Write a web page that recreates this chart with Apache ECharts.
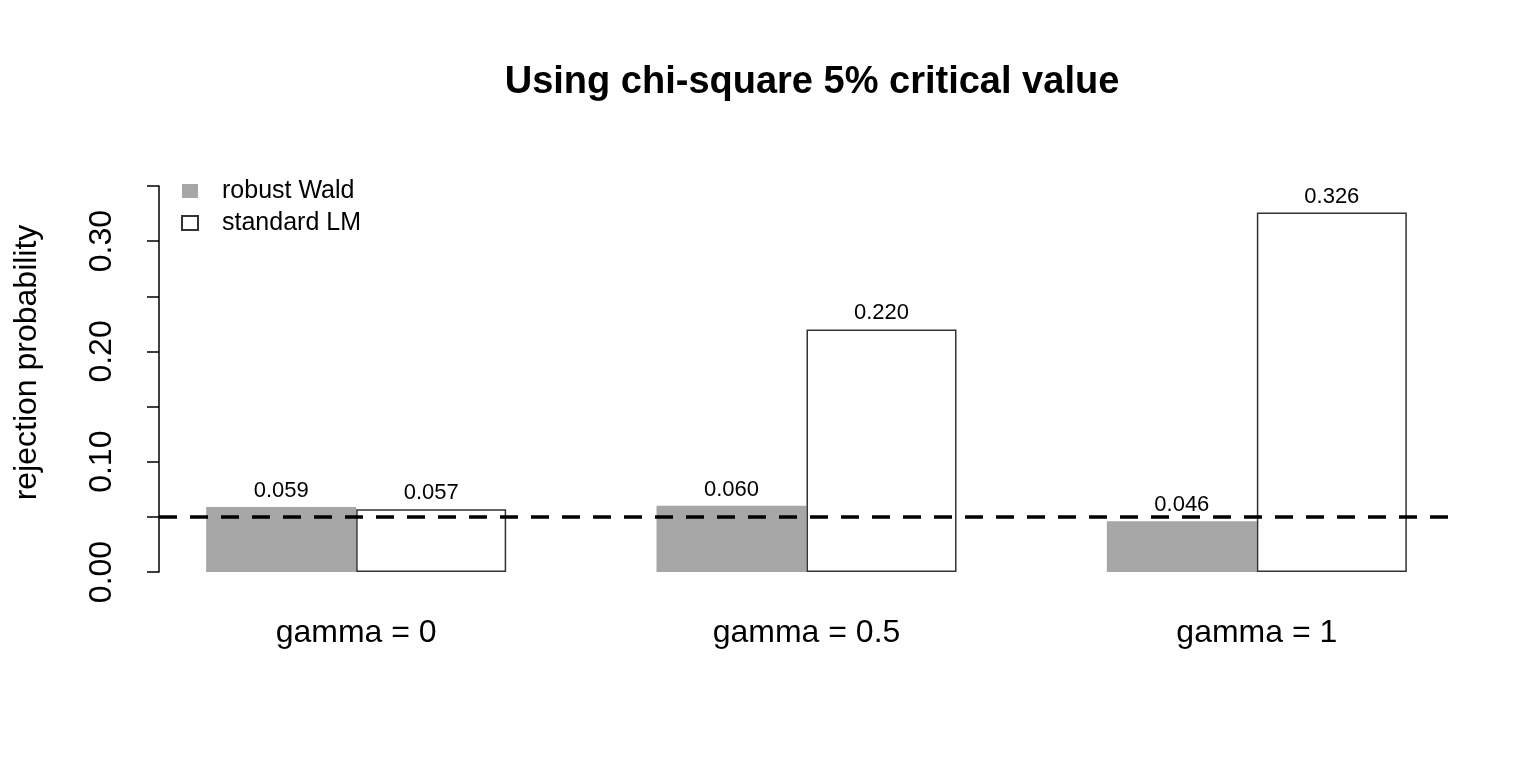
<!DOCTYPE html>
<html>
<head>
<meta charset="utf-8">
<script src="https://cdn.jsdelivr.net/npm/echarts@6/dist/echarts.min.js"></script>
<style>html,body{margin:0;padding:0;background:#fff;}#c{width:1536px;height:768px;}</style>
</head>
<body>
<div id="c"></div>
<script>
const categories = ['gamma = 0', 'gamma = 0.5', 'gamma = 1'];
const robustWald = [0.059, 0.060, 0.046];
const standardLM = [0.057, 0.220, 0.326];
const seriesNames = ['robust Wald', 'standard LM'];
const refLine = [0.05];
const titleText = 'Using chi-square 5% critical value';
const yTitle = 'rejection probability';

const FONT = '"Liberation Sans", Arial, Helvetica, sans-serif';
const chart = echarts.init(document.getElementById('c'));
const barLabel = {
  show: true, position: 'top', distance: 5,
  fontFamily: FONT, fontSize: 22, color: '#000',
  formatter: p => p.value.toFixed(3)
};
chart.setOption({
  animation: false,
  backgroundColor: '#fff',
  title: {
    text: titleText, left: 807, top: 59, textAlign: 'center',
    textStyle: { fontFamily: FONT, fontSize: 38, fontWeight: 'bold', color: '#000' }
  },
  legend: {
    orient: 'vertical', left: 181, top: 178, padding: 0,
    itemWidth: 16, itemHeight: 14, itemGap: 6,
    icon: 'rect',
    data: seriesNames,
    textStyle: { fontFamily: FONT, fontSize: 25, color: '#000', lineHeight: 26, padding: [0, 0, 0, 19] }
  },
  grid: [
    { left: 131, width: 1351, top: 153, bottom: 196 },
    { left: 159, width: 1296, top: 186, bottom: 196 }
  ],
  xAxis: [
    {
      type: 'category', gridIndex: 0, data: categories,
      axisLine: { show: false }, axisTick: { show: false },
      axisLabel: { margin: 45, fontFamily: FONT, fontSize: 32, color: '#000' }
    },
    { type: 'value', gridIndex: 1, min: 0, max: 1, show: false }
  ],
  yAxis: [
    {
      type: 'value', gridIndex: 0, min: 0, max: 0.38,
      axisLine: { show: false }, axisTick: { show: false },
      axisLabel: { show: false }, splitLine: { show: false },
      name: yTitle, nameLocation: 'middle', nameRotate: 90, nameGap: 88,
      nameTextStyle: { fontFamily: FONT, fontSize: 32, color: '#000' }
    },
    {
      type: 'value', gridIndex: 1, min: 0, max: 0.35, interval: 0.05,
      axisLine: { show: true, lineStyle: { color: '#000', width: 1.5 } },
      axisTick: { show: true, length: 12, lineStyle: { color: '#000', width: 1.5 } },
      splitLine: { show: false },
      axisLabel: {
        rotate: 90, margin: 41, fontFamily: FONT, fontSize: 32, color: '#000',
        formatter: v => (Math.round(v * 100) % 10 === 0 ? v.toFixed(2) : '')
      }
    }
  ],
  series: [
    {
      name: seriesNames[0], type: 'bar', xAxisIndex: 0, yAxisIndex: 0,
      data: robustWald, barWidth: 150, barGap: 0,
      itemStyle: { color: '#A6A6A6' },
      label: barLabel
    },
    {
      name: seriesNames[1], type: 'bar', xAxisIndex: 0, yAxisIndex: 0,
      data: standardLM, barWidth: 150, barGap: 0,
      itemStyle: { color: '#fff', borderColor: '#333', borderWidth: 1.5 },
      label: barLabel
    },
    {
      name: 'ref', type: 'line', xAxisIndex: 1, yAxisIndex: 1, data: [],
      z: 10,
      markLine: {
        silent: true, symbol: ['none', 'none'], label: { show: false },
        lineStyle: { color: '#000', width: 3.5, type: [18, 13] },
        data: refLine.map(v => ({ yAxis: v }))
      }
    }
  ]
});
</script>
</body>
</html>
